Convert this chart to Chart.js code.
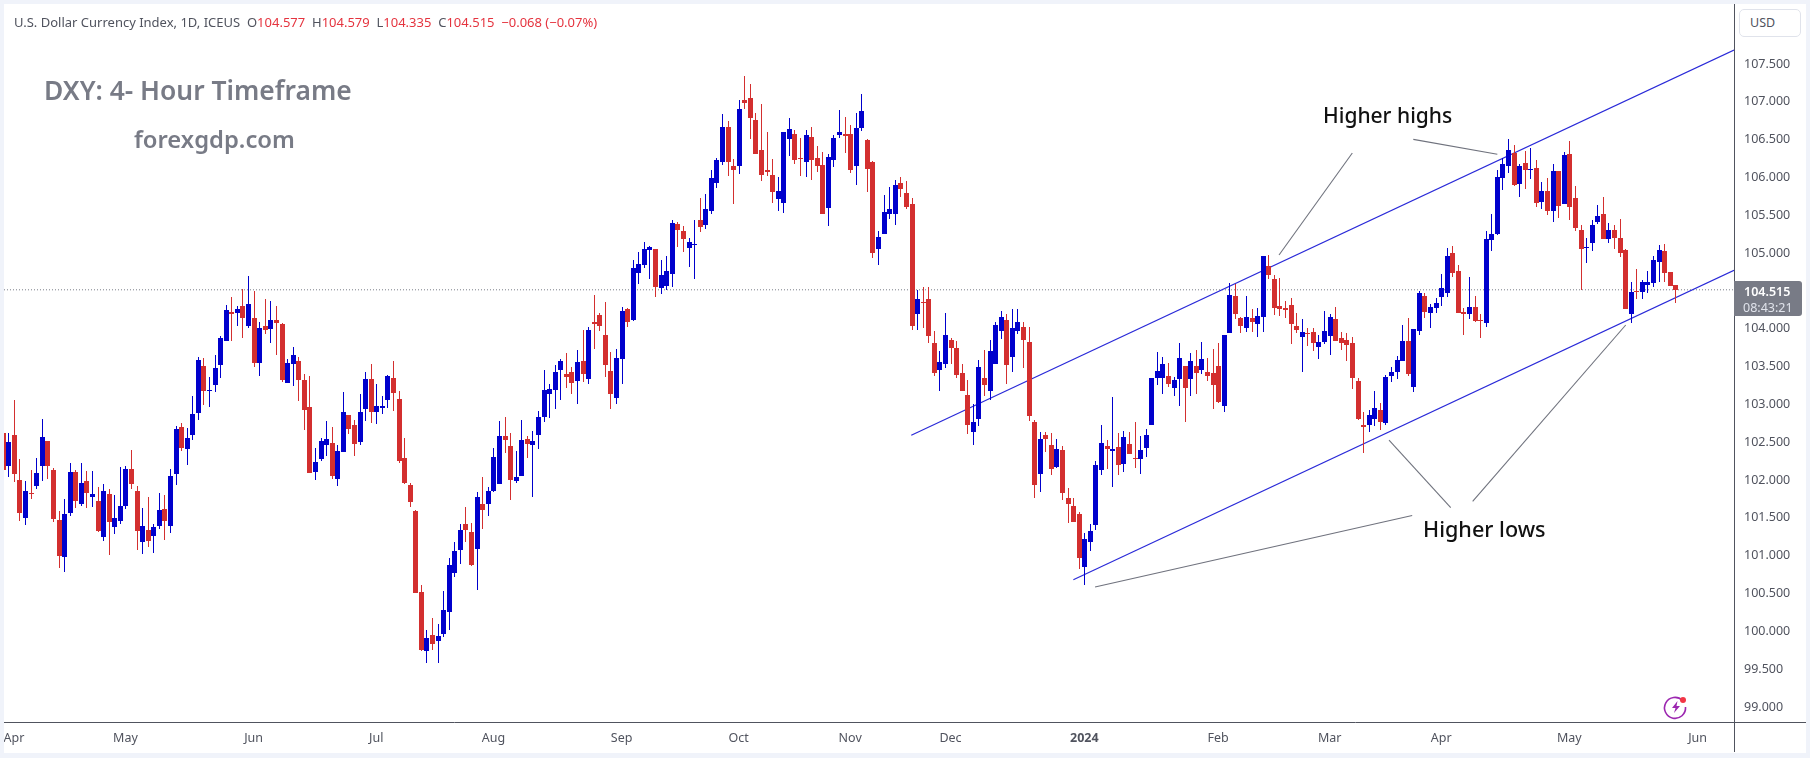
<!DOCTYPE html>
<html>
<head>
<meta charset="utf-8">
<title>DXY</title>
<script src="https://cdn.jsdelivr.net/npm/chart.js@4"></script>
<style>
    html, body { margin: 0; padding: 0; background: #f0f3fa; width: 1810px; height: 758px; overflow: hidden; }
    #panel { position: absolute; left: 4px; top: 4px; width: 1802px; height: 749px; background: #fff; }
    canvas { position: absolute; left: 0; top: 0; }
    .note { position: absolute; white-space: pre; font-family: "Noto Sans", sans-serif; }
    #header { left: 14px; top: 13px; font-size: 13px; color: #50535e; line-height: 18px; }
    #header span { color: #e5343f; }
    #title { left: 44px; top: 72px; font-size: 26.4px; font-weight: 600; color: #787b86; line-height: 36px; }
    #site { left: 134px; top: 123px; font-size: 23.8px; font-weight: 600; color: #787b86; line-height: 32px; }
    #highs { left: 1323px; top: 100px; font-size: 21px; font-weight: 500; color: #111; line-height: 30px; }
    #lows { left: 1423px; top: 514px; font-size: 21.6px; font-weight: 500; color: #111; line-height: 30px; }
    #usd { position: absolute; left: 1739px; top: 9px; width: 62px; height: 28px; box-sizing: border-box; border: 1px solid #e0e3eb; border-radius: 5px; background: #fff; font: 12.5px/26px "Noto Sans", sans-serif; color: #50535e; padding-left: 10px; }
    #bolt { position: absolute; left: 1662px; top: 693px; }
</style>
</head>
<body>
<div id="panel"><canvas id="dxy" width="1802" height="749"></canvas></div>
<div class="note" id="header">U.S. Dollar Currency Index, 1D, ICEUS  O<span>104.577</span>  H<span>104.579</span>  L<span>104.335</span>  C<span>104.515</span>  <span>−0.068 (−0.07%)</span></div>
<div class="note" id="title">DXY: 4- Hour Timeframe</div>
<div class="note" id="site">forexgdp.com</div>
<div class="note" id="highs">Higher highs</div>
<div class="note" id="lows">Higher lows</div>
<div id="usd">USD</div>
<svg id="bolt" width="28" height="28" viewBox="0 0 28 28">
    <path d="M20.5 7.5 A10.5 10.5 0 1 0 23.5 14" fill="none" stroke="#9c27b0" stroke-width="1.6"/>
    <path d="M15.5 8 L10 15 H13.5 L12 20 L18 13 H14.5 Z" fill="#9c27b0"/>
    <circle cx="21" cy="7" r="3" fill="#f23645"/>
</svg>
<script>
const opens = [
    102.623,102.187,102.596,102.002,101.499,101.830,101.922,102.187,102.517,102.134,
    101.473,100.984,101.565,102.107,101.684,101.988,101.777,101.724,101.248,101.817,
    101.380,101.460,101.658,102.147,101.856,101.182,101.341,101.261,101.394,101.618,
    101.394,102.081,102.702,102.411,102.596,102.887,103.508,103.178,103.257,103.521,
    103.838,104.222,104.208,104.301,104.037,104.142,103.548,104.037,103.997,104.116,
    104.063,103.283,103.534,103.574,103.323,102.966,102.107,102.279,102.464,102.491,
    102.015,102.372,102.860,102.728,102.504,102.940,103.336,102.900,102.953,103.059,
    103.349,103.072,102.292,101.935,101.592,100.521,99.742,99.953,99.874,99.966,
    100.257,100.773,101.076,101.420,101.314,101.090,101.684,101.684,101.856,101.949,
    102.583,102.451,101.988,102.054,102.543,102.464,102.596,102.834,103.138,103.191,
    103.455,103.402,103.429,103.310,103.574,103.336,104.089,104.182,103.918,103.442,
    103.085,103.601,104.261,104.116,104.737,104.843,105.041,105.054,104.539,104.565,
    104.724,105.385,105.292,105.068,105.107,105.438,105.371,105.557,105.927,106.204,
    106.667,106.151,106.151,107.023,107.050,106.759,106.363,106.098,106.032,105.715,
    105.662,106.508,106.574,106.257,106.204,106.534,106.257,106.164,105.596,106.230,
    106.561,106.574,106.574,106.151,106.653,106.495,106.204,105.054,105.253,105.517,
    105.517,105.927,105.794,105.649,104.195,104.354,104.394,103.811,103.455,103.534,
    103.851,103.745,103.415,103.124,102.635,102.807,103.349,103.177,103.534,103.970,
    104.115,103.626,103.970,104.023,103.825,102.767,102.080,102.596,102.463,102.173,
    102.397,101.763,101.657,101.552,100.851,101.182,101.406,102.133,102.450,102.384,
    102.437,102.212,102.477,102.292,102.278,102.424,102.728,103.349,103.349,103.375,
    103.217,103.336,103.508,103.336,103.508,103.455,103.428,103.415,103.508,102.979,
    103.944,104.433,104.142,104.010,104.142,104.063,104.156,104.830,104.658,104.301,
    104.275,104.314,104.037,103.891,103.944,103.957,103.759,103.825,103.905,104.129,
    103.878,103.852,103.812,103.310,102.728,102.728,102.808,102.927,102.755,103.376,
    103.429,103.574,103.838,103.231,103.971,104.433,104.209,104.275,104.420,104.473,
    105.001,104.764,104.222,104.195,104.288,104.116,104.076,105.173,105.252,105.993,
    106.151,106.323,105.913,106.191,106.098,106.125,105.675,105.821,105.556,106.085,
    105.649,106.310,105.728,105.305,105.067,105.134,105.411,105.517,105.186,105.305,
    105.200,105.041,104.195,104.499,104.486,104.578,104.605,104.882,105.028,104.750,
    104.577
]
const highs = [
    102.623,102.623,103.059,102.279,101.988,102.134,102.292,102.808,102.517,102.160,
    101.592,101.750,102.226,102.134,102.226,102.120,102.120,101.909,101.949,101.883,
    101.803,102.173,102.187,102.398,101.922,101.631,101.777,101.420,101.830,101.803,
    102.147,102.715,102.755,102.689,103.112,103.627,103.614,103.363,103.653,103.905,
    104.314,104.420,104.301,104.526,104.697,104.499,104.089,104.393,104.367,104.301,
    104.076,103.601,103.759,103.627,103.402,103.376,102.424,102.557,102.781,102.702,
    102.464,103.164,102.860,102.794,103.138,103.429,103.534,103.270,103.112,103.389,
    103.574,103.178,102.557,101.962,101.605,100.614,100.019,100.178,100.099,100.535,
    100.971,101.182,101.420,101.645,101.433,101.843,102.041,101.909,102.424,102.781,
    102.834,102.623,102.385,102.794,102.583,102.649,102.913,103.455,103.270,103.521,
    103.601,103.680,103.495,103.720,103.984,104.023,104.446,104.208,104.354,103.693,
    103.733,104.288,104.275,104.909,105.015,105.147,105.094,105.054,104.909,104.962,
    105.438,105.411,105.358,105.200,105.438,105.728,105.781,106.098,106.257,106.838,
    106.746,106.244,107.023,107.341,107.235,106.852,106.971,106.601,106.244,106.006,
    106.601,106.786,106.627,106.521,106.627,106.667,106.416,106.336,106.310,106.561,
    106.891,106.799,106.693,106.852,107.103,106.508,106.217,105.292,105.768,105.874,
    105.966,106.006,105.953,105.728,104.513,104.552,104.552,103.970,103.706,104.208,
    103.878,103.838,103.534,103.323,103.005,103.587,103.719,103.851,104.089,104.234,
    104.195,104.261,104.261,104.089,104.023,102.794,102.635,102.635,102.622,102.543,
    102.450,101.895,101.763,101.578,101.301,101.420,102.252,102.728,102.530,103.098,
    102.622,102.649,102.635,102.767,102.582,102.675,103.349,103.692,103.626,103.547,
    103.362,103.811,103.508,103.679,103.719,103.825,103.613,103.732,103.811,103.917,
    104.604,104.591,104.155,104.433,104.261,104.274,104.962,104.975,104.711,104.671,
    104.367,104.407,104.209,104.129,104.010,104.010,103.918,104.235,104.195,104.288,
    103.957,103.944,103.891,103.349,102.900,102.927,103.178,103.019,103.389,103.495,
    103.640,104.050,104.142,103.997,104.499,104.473,104.327,104.407,104.724,105.067,
    105.094,104.843,104.275,104.684,104.433,104.195,105.292,105.517,106.098,106.257,
    106.508,106.429,106.178,106.349,106.389,106.230,105.940,105.993,106.178,106.085,
    106.336,106.481,105.887,105.371,105.200,105.438,105.636,105.741,105.398,105.371,
    105.451,105.054,104.618,104.790,104.645,104.764,104.962,105.107,105.120,104.750,
    104.579
]
const lows = [
    102.134,102.041,101.975,101.460,101.407,101.750,101.883,101.988,102.015,101.446,
    100.839,100.786,101.526,101.631,101.658,101.631,101.645,101.314,101.195,101.010,
    101.288,101.420,101.618,101.883,101.076,101.024,101.116,101.037,101.354,101.209,
    101.301,101.935,102.385,102.200,102.530,102.794,102.993,102.966,103.164,103.349,
    103.838,103.838,104.037,103.878,104.010,103.495,103.376,103.931,103.812,103.653,
    103.297,103.283,103.244,103.046,102.662,102.094,102.002,102.253,102.319,102.015,
    101.922,102.372,102.609,102.319,102.464,102.781,102.755,102.742,102.874,102.953,
    102.913,102.226,101.949,101.645,100.508,99.742,99.583,99.755,99.583,99.927,
    100.019,100.720,100.891,101.182,100.865,100.548,101.354,101.526,101.843,101.949,
    102.358,101.737,101.962,102.054,102.292,101.777,102.411,102.768,102.821,102.940,
    103.059,103.217,103.138,103.006,103.297,103.270,103.733,103.971,103.363,102.940,
    103.006,103.270,104.023,104.103,104.592,104.803,104.658,104.420,104.460,104.513,
    104.552,105.081,105.015,104.816,104.658,105.279,105.319,105.517,105.860,106.164,
    106.019,105.649,106.045,106.904,106.508,106.310,105.953,106.019,105.662,105.557,
    105.530,106.283,106.178,106.019,106.006,105.966,106.072,105.517,105.358,106.138,
    106.521,106.323,106.059,105.900,106.614,105.808,104.935,104.843,105.253,105.451,
    105.371,105.742,105.583,103.984,103.984,104.010,103.812,103.375,103.177,103.481,
    103.534,103.349,103.177,102.609,102.463,102.715,103.111,103.058,103.534,103.864,
    103.270,103.428,103.930,103.481,102.781,101.763,101.842,102.371,102.067,102.160,
    101.737,101.433,101.446,100.825,100.613,101.063,101.340,102.067,102.146,101.908,
    102.067,102.107,102.345,102.160,102.080,102.305,102.728,103.256,103.137,103.230,
    103.111,102.979,102.767,103.111,103.137,103.402,103.309,102.939,103.019,102.900,
    103.944,104.129,103.944,103.957,103.957,103.891,103.957,104.658,104.182,104.169,
    104.142,103.799,103.944,103.429,103.772,103.706,103.601,103.799,103.653,103.838,
    103.719,103.574,103.204,102.795,102.358,102.636,102.715,102.662,102.728,103.297,
    103.336,103.574,103.376,103.164,103.918,104.142,104.010,104.209,104.301,104.420,
    104.684,104.209,103.918,104.129,104.090,103.878,104.023,105.028,105.239,105.834,
    106.059,105.887,105.741,105.847,105.979,105.609,105.583,105.504,105.411,105.464,
    105.649,105.438,105.292,104.512,104.869,105.028,105.385,105.186,105.134,105.054,
    104.949,104.261,104.076,104.393,104.393,104.473,104.552,104.618,104.618,104.565,
    104.335
]
const closes = [
    102.134,102.504,102.081,101.565,101.856,101.817,102.094,102.570,102.187,101.486,
    100.997,101.552,102.107,101.724,101.962,101.830,101.817,101.328,101.856,101.446,
    101.499,101.658,102.147,101.949,101.328,101.394,101.195,101.380,101.605,101.460,
    102.054,102.675,102.424,102.557,102.874,103.587,103.178,103.191,103.482,103.878,
    104.248,104.195,104.261,104.142,104.327,103.548,104.010,103.984,104.116,104.076,
    103.323,103.548,103.653,103.323,102.927,102.094,102.239,102.517,102.543,102.054,
    102.385,102.900,102.675,102.477,102.900,103.336,102.900,102.979,102.979,103.376,
    103.151,102.253,101.962,101.711,100.508,99.755,99.914,99.834,99.940,100.284,
    100.878,101.063,101.341,101.341,100.878,101.777,101.605,101.856,102.305,102.583,
    102.530,102.002,102.041,102.530,102.477,102.517,102.834,103.191,103.204,103.429,
    103.574,103.363,103.283,103.561,103.402,103.984,104.063,104.037,103.521,103.138,
    103.614,104.235,104.089,104.803,104.856,105.054,105.081,104.552,104.711,104.764,
    105.398,105.305,105.186,105.147,105.120,105.345,105.583,105.993,106.230,106.667,
    106.204,106.098,106.904,106.984,106.786,106.310,106.032,106.072,105.808,105.821,
    106.601,106.640,106.230,106.244,106.561,106.230,106.151,105.517,106.270,106.521,
    106.601,106.548,106.098,106.653,106.878,106.112,105.002,105.213,105.543,105.583,
    105.900,105.847,105.609,104.037,104.394,104.341,103.905,103.415,103.560,103.917,
    103.745,103.389,103.177,102.728,102.767,103.494,103.256,103.706,104.049,104.155,
    103.521,104.010,104.089,103.851,102.847,101.935,102.543,102.543,102.146,102.411,
    101.829,101.684,101.446,100.970,101.221,101.327,102.199,102.490,102.411,102.411,
    102.199,102.569,102.345,102.278,102.397,102.596,103.349,103.441,103.534,103.270,
    103.323,103.613,103.217,103.574,103.415,103.600,103.375,103.256,103.032,103.917,
    104.446,104.195,104.036,104.155,104.089,104.168,104.962,104.711,104.275,104.261,
    104.248,104.063,103.984,103.957,103.931,103.812,103.825,103.971,104.156,103.838,
    103.812,103.786,103.349,102.808,102.702,102.861,102.953,102.768,103.363,103.429,
    103.587,103.838,103.402,103.997,104.473,104.222,104.288,104.341,104.539,104.962,
    104.737,104.209,104.195,104.288,104.103,104.103,105.186,105.252,106.006,106.178,
    106.363,105.900,106.151,106.098,106.111,105.662,105.821,105.556,106.085,105.623,
    106.296,105.609,105.332,105.054,105.081,105.371,105.490,105.186,105.305,105.200,
    105.001,104.261,104.486,104.486,104.618,104.618,104.909,105.041,104.737,104.565,
    104.515
]

const priceTicks = [99, 99.5, 100, 100.5, 101, 101.5, 102, 102.5, 103, 103.5, 104, 105, 105.5, 106, 106.5, 107, 107.5]
const monthTicks = [2, 22, 45, 67, 88, 111, 132, 152, 170, 194, 218, 238, 258, 281, 304]
const monthLabels = ["Apr", "May", "Jun", "Jul", "Aug", "Sep", "Oct", "Nov", "Dec", "2024", "Feb", "Mar", "Apr", "May", "Jun"]

// trend lines, [bar index, price]
const upperChannel = [[162.96, 102.592], [310.53, 107.685]]
const lowerChannel = [[192.03, 100.683], [310.53, 104.773]]
const connectors = [
    [[242.07, 106.323], [228.92, 104.975]],
    [[253.01, 106.504], [268.08, 106.306]],
    [[195.92, 100.586], [252.81, 101.531]],
    [[248.65, 102.529], [259.72, 101.636]],
    [[263.65, 101.719], [291.11, 104.050]],
]

const lastPrice = 104.515
const countdown = "08:43:21"
const UP = "#0000cc"
const DOWN = "#d32f2f"
const AXIS_COLOR = "#50535e"
const FONT = '"Noto Sans", sans-serif'

const candleColors = closes.map((c, i) => (c >= opens[i] ? UP : DOWN))
const toPoints = (line) => line.map(([x, y]) => ({ x, y }))

function lineDataset(points, color, width, dash) {
    return {
        type: "line",
        data: toPoints(points),
        borderColor: color,
        borderWidth: width,
        borderDash: dash || [],
        pointRadius: 0,
        order: 2,
    }
}

// chart.js puts bars on fractional pixels, snap them so candles stay crisp
const snapCandles = {
    id: "snapCandles",
    afterDatasetsUpdate(chart) {
        chart.data.datasets.forEach((ds, idx) => {
            if (ds.type === "line") return
            chart.getDatasetMeta(idx).data.forEach((bar) => {
                bar.x = Math.round(bar.x) + 0.5
                bar.y = Math.round(bar.y)
                bar.base = Math.round(bar.base)
                if (bar.y === bar.base) bar.base = bar.y + 1
            })
        })
    },
}

const chrome = {
    id: "chrome",
    afterDraw(chart) {
        const { ctx, chartArea, width, height } = chart
        const y = Math.round(chart.scales.y.getPixelForValue(lastPrice))
        ctx.save()
        ctx.strokeStyle = AXIS_COLOR
        ctx.lineWidth = 1
        ctx.beginPath()
        ctx.moveTo(chartArea.right + 0.5, 0)
        ctx.lineTo(chartArea.right + 0.5, height - 1)
        ctx.moveTo(0, chartArea.bottom + 0.5)
        ctx.lineTo(width, chartArea.bottom + 0.5)
        ctx.stroke()

        // last price tag
        ctx.fillStyle = "#787b86"
        ctx.beginPath()
        ctx.roundRect(chartArea.right, y - 9, 68, 35, [0, 3, 3, 0])
        ctx.fill()
        ctx.textBaseline = "middle"
        ctx.textAlign = "left"
        ctx.font = "600 12.5px " + FONT
        ctx.fillStyle = "#fff"
        ctx.fillText(lastPrice.toFixed(3), chartArea.right + 10, y + 2)
        ctx.font = "12.5px " + FONT
        ctx.fillStyle = "#e0e3eb"
        ctx.fillText(countdown, chartArea.right + 9, y + 18)
        ctx.restore()
    },
}

new Chart(document.getElementById("dxy"), {
    type: "bar",
    data: {
        datasets: [
            {
                data: opens.map((o, i) => ({ x: i, y: [o, closes[i]] })),
                backgroundColor: candleColors,
                barThickness: 5,
                inflateAmount: 0,
                order: 0,
            },
            {
                data: lows.map((l, i) => ({ x: i, y: [l, highs[i]] })),
                backgroundColor: candleColors,
                barThickness: 1,
                inflateAmount: 0,
                order: 1,
            },
            lineDataset(upperChannel, "#2a2ad8", 1.2),
            lineDataset(lowerChannel, "#2a2ad8", 1.2),
            ...connectors.map((c) => lineDataset(c, "#6f727d", 1.1)),
            lineDataset([[0.22, lastPrice], [310.53, lastPrice]], "#787b86", 1, [1, 2]),
        ],
    },
    options: {
        responsive: false,
        animation: false,
        events: [],
        layout: { padding: 0 },
        plugins: { legend: { display: false }, tooltip: { enabled: false } },
        datasets: { bar: { grouped: false } },
        scales: {
            x: {
                type: "linear",
                offset: false,
                min: 0.222,
                max: 310.53,
                grid: { display: false, drawTicks: false, offset: false },
                border: { display: false },
                afterBuildTicks(scale) {
                    scale.ticks = monthTicks.map((value) => ({ value }))
                },
                afterFit(scale) {
                    scale.height = 31
                    scale.paddingLeft = 0
                    scale.paddingRight = 0
                },
                ticks: {
                    autoSkip: false,
                    maxRotation: 0,
                    padding: 9,
                    color: AXIS_COLOR,
                    font: (ctx) => ({ family: FONT, size: 12.5, weight: monthLabels[ctx.index] === "2024" ? "700" : "400" }),
                    callback: (value, index) => monthLabels[index],
                },
            },
            y: {
                position: "right",
                min: 98.802,
                max: 108.293,
                grid: { display: false, drawTicks: false },
                border: { display: false },
                afterBuildTicks(scale) {
                    scale.ticks = priceTicks.map((value) => ({ value }))
                },
                afterFit(scale) {
                    scale.width = 72
                    scale.paddingTop = 0
                    scale.paddingBottom = 0
                },
                ticks: {
                    autoSkip: false,
                    padding: 10,
                    color: AXIS_COLOR,
                    font: { family: FONT, size: 12.5 },
                    callback: (value) => value.toFixed(3),
                },
            },
        },
    },
    plugins: [snapCandles, chrome],
})
</script>
</body>
</html>
